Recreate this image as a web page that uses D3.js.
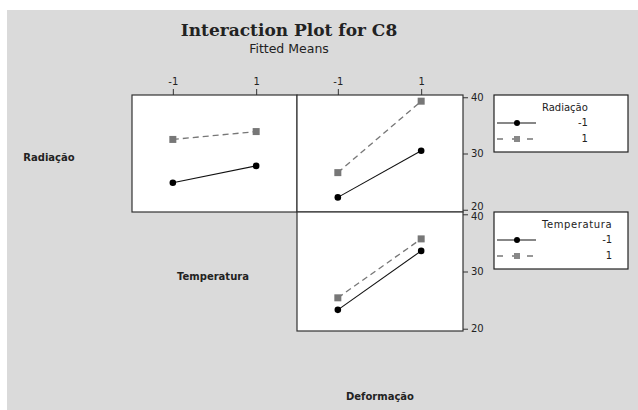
<!DOCTYPE html>
<html>
<head>
<meta charset="utf-8">
<script src="https://cdn.jsdelivr.net/npm/d3@7"></script>
<style>
  body { margin: 0; background: #fff; }
  text { font-family: "DejaVu Sans", Verdana, sans-serif; fill: #222; }
</style>
</head>
<body>
<div id="chart"></div>
<script>
var svgWidth = 638;
var svgHeight = 410;

// factor levels on every x axis
var levels = [-1, 1];
var yTicks = [20, 30, 40];

// fitted means
// panel 1: x = Temperatura, lines = Radiação
var radTempLow = [24.8, 27.8];   // Radiação -1
var radTempHigh = [32.5, 33.9];  // Radiação 1
// panel 2: x = Deformação, lines = Radiação
var radDefLow = [22.2, 30.5];
var radDefHigh = [26.6, 39.3];
// panel 3: x = Deformação, lines = Temperatura
var tempDefLow = [23.3, 33.6];
var tempDefHigh = [25.4, 35.7];

var svg = d3.select("#chart")
  .append("svg")
  .attr("width", svgWidth)
  .attr("height", svgHeight);

// grey background with the white strip at top and left
svg.append("rect")
  .attr("x", 7).attr("y", 10)
  .attr("width", svgWidth - 7).attr("height", svgHeight - 10)
  .attr("fill", "#dadada");

svg.append("text")
  .attr("x", 289).attr("y", 36)
  .attr("text-anchor", "middle")
  .attr("font-size", "17px")
  .attr("font-weight", "bold")
  .style("font-family", "'DejaVu Serif', serif")
  .text("Interaction Plot for C8");

svg.append("text")
  .attr("x", 289).attr("y", 53)
  .attr("text-anchor", "middle")
  .attr("font-size", "12.5px")
  .text("Fitted Means");

// panel grid
var colX = [132, 297, 463];
var rowY = [95, 212, 331];

var xScale = d3.scaleLinear().domain([-1.98, 1.98]).range([0, colX[1] - colX[0]]);

function yScaleFor(r) {
  return d3.scaleLinear().domain([19.6, 40.4]).range([rowY[r + 1] - rowY[r], 0]);
}

var panels = [
  { col: 0, row: 0, low: radTempLow, high: radTempHigh, topAxis: true },
  { col: 1, row: 0, low: radDefLow, high: radDefHigh, topAxis: true, rightAxis: true },
  { col: 1, row: 1, low: tempDefLow, high: tempDefHigh, rightAxis: true }
];

panels.forEach(function(p) {
  var w = colX[p.col + 1] - colX[p.col];
  var h = rowY[p.row + 1] - rowY[p.row];
  var yScale = yScaleFor(p.row);
  var g = svg.append("g")
    .attr("transform", `translate(${colX[p.col]}, ${rowY[p.row]})`);

  g.append("rect")
    .attr("width", w).attr("height", h)
    .attr("fill", "#fff")
    .attr("stroke", "#333")
    .attr("stroke-width", 1.2);

  if (p.topAxis) {
    var topAxis = d3.axisTop(xScale)
      .tickValues(levels)
      .tickSize(6)
      .tickPadding(4)
      .tickFormat(d => String(d));
    var ta = g.append("g").call(topAxis);
    ta.select(".domain").remove();
    ta.selectAll("line").attr("stroke", "#333");
    ta.selectAll("text").attr("font-size", "10px").style("font-family", "'DejaVu Sans', sans-serif").attr("fill", "#222");
  }

  if (p.rightAxis) {
    var rightAxis = d3.axisRight(yScale)
      .tickValues(yTicks)
      .tickSize(5)
      .tickPadding(3);
    var ra = g.append("g").attr("transform", `translate(${w}, 0)`).call(rightAxis);
    ra.select(".domain").remove();
    ra.selectAll("line").attr("stroke", "#333");
    ra.selectAll("text").attr("font-size", "10px").style("font-family", "'DejaVu Sans', sans-serif").attr("fill", "#333");
    // the 20 of the top panel and the 40 of the bottom one crowd each other at the join
    ra.selectAll(".tick text")
      .attr("dy", d => (p.row === 0 && d === 20) ? "-0.05em" : (p.row === 1 && d === 40) ? "0.55em" : "0.32em");
  }

  var line = d3.line()
    .x((d, i) => xScale(levels[i]))
    .y(d => yScale(d));

  g.append("path")
    .datum(p.low)
    .attr("d", line)
    .attr("fill", "none")
    .attr("stroke", "#111")
    .attr("stroke-width", 1.1);

  g.append("path")
    .datum(p.high)
    .attr("d", line)
    .attr("fill", "none")
    .attr("stroke", "#777")
    .attr("stroke-width", 1.3)
    .attr("stroke-dasharray", "6,4");

  g.selectAll(".dotLow")
    .data(p.low)
    .enter()
    .append("circle")
    .attr("cx", (d, i) => xScale(levels[i]))
    .attr("cy", d => yScale(d))
    .attr("r", 3.3)
    .attr("fill", "#000");

  g.selectAll(".sqHigh")
    .data(p.high)
    .enter()
    .append("rect")
    .attr("x", (d, i) => xScale(levels[i]) - 3.5)
    .attr("y", d => yScale(d) - 3.5)
    .attr("width", 7)
    .attr("height", 7)
    .attr("fill", "#777");
});

// factor names on the diagonal
var factorLabels = [
  { name: "Radiação", x: 49, y: 161 },
  { name: "Temperatura", x: 213, y: 280 },
  { name: "Deformação", x: 380, y: 400 }
];
svg.selectAll(".factor")
  .data(factorLabels)
  .enter()
  .append("text")
  .attr("x", d => d.x)
  .attr("y", d => d.y)
  .attr("text-anchor", "middle")
  .attr("font-size", "10px")
  .attr("font-weight", "bold")
  .text(d => d.name);

// legends
var legends = [
  { title: "Radiação", y: 95, labels: ["-1", "1"] },
  { title: "Temperatura", y: 212, labels: ["-1", "1"] }
];
legends.forEach(function(l) {
  var g = svg.append("g").attr("transform", `translate(494, ${l.y})`);
  g.append("rect")
    .attr("width", 134).attr("height", 57)
    .attr("fill", "#fff")
    .attr("stroke", "#222")
    .attr("stroke-width", 1.2);
  var title = g.append("text")
    .attr("x", 48).attr("y", 16)
    .attr("font-size", "10px")
    .attr("letter-spacing", l.title === "Temperatura" ? "0.6px" : "0px")
    .text(l.title);
  var titleEnd = 48 + title.node().getComputedTextLength();
  // solid row
  g.append("line")
    .attr("x1", 3).attr("x2", 42).attr("y1", 28).attr("y2", 28)
    .attr("stroke", "#111").attr("stroke-width", 1.1);
  g.append("circle").attr("cx", 23).attr("cy", 28).attr("r", 3).attr("fill", "#000");
  // dashed row
  g.append("line")
    .attr("x1", 3).attr("x2", 42).attr("y1", 44).attr("y2", 44)
    .attr("stroke", "#777").attr("stroke-width", 1.3)
    .attr("stroke-dasharray", "6,9");
  g.append("rect").attr("x", 20).attr("y", 41).attr("width", 6).attr("height", 6).attr("fill", "#888");
  g.selectAll(".lab")
    .data(l.labels)
    .enter()
    .append("text")
    .attr("x", titleEnd)
    .attr("y", (d, i) => 31 + i * 16)
    .attr("text-anchor", "end")
    .attr("font-size", "10px")
    .text(d => d);
});
</script>
</body>
</html>
